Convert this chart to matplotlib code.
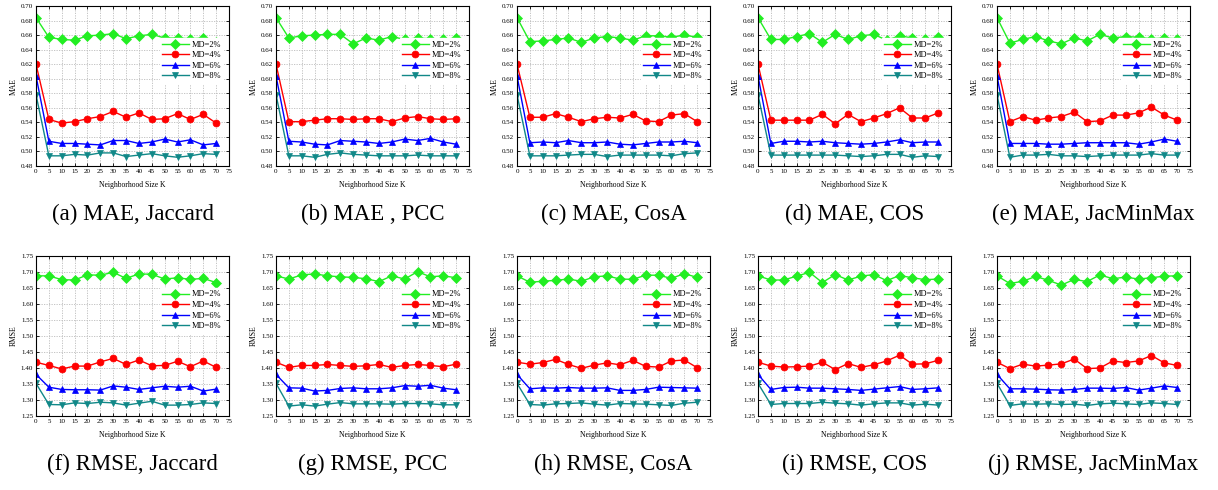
import matplotlib
matplotlib.use("Agg")
import matplotlib.pyplot as plt
from matplotlib.ticker import MultipleLocator

plt.rcParams['font.family'] = ['Liberation Serif', 'DejaVu Serif']

K = [0, 5, 10, 15, 20, 25, 30, 35, 40, 45, 50, 55, 60, 65, 70]
series_labels = ["MD=2%", "MD=4%", "MD=6%", "MD=8%"]
captions = ["(a) MAE, Jaccard", "(b) MAE , PCC", "(c) MAE, CosA", "(d) MAE, COS", "(e) MAE, JacMinMax",
            "(f) RMSE, Jaccard", "(g) RMSE, PCC", "(h) RMSE, CosA", "(i) RMSE, COS", "(j) RMSE, JacMinMax"]

# MAE panels
mae_jaccard = [
    [0.684, 0.657, 0.654, 0.653, 0.659, 0.660, 0.662, 0.655, 0.659, 0.661, 0.656, 0.656, 0.655, 0.656, 0.651],
    [0.620, 0.544, 0.539, 0.541, 0.545, 0.548, 0.555, 0.547, 0.553, 0.544, 0.545, 0.552, 0.544, 0.551, 0.539],
    [0.604, 0.514, 0.511, 0.511, 0.510, 0.509, 0.515, 0.515, 0.511, 0.513, 0.517, 0.513, 0.516, 0.509, 0.511],
    [0.578, 0.494, 0.494, 0.496, 0.495, 0.498, 0.498, 0.493, 0.495, 0.497, 0.494, 0.492, 0.494, 0.497, 0.496],
]
mae_pcc = [
    [0.684, 0.656, 0.659, 0.660, 0.661, 0.661, 0.648, 0.656, 0.653, 0.658, 0.654, 0.656, 0.655, 0.654, 0.656],
    [0.620, 0.541, 0.541, 0.543, 0.545, 0.545, 0.544, 0.545, 0.545, 0.541, 0.546, 0.548, 0.545, 0.544, 0.545],
    [0.604, 0.514, 0.513, 0.510, 0.509, 0.515, 0.514, 0.513, 0.511, 0.513, 0.517, 0.515, 0.518, 0.513, 0.510],
    [0.578, 0.494, 0.494, 0.492, 0.496, 0.498, 0.496, 0.495, 0.494, 0.494, 0.494, 0.495, 0.494, 0.494, 0.494],
]
mae_cosa = [
    [0.684, 0.651, 0.652, 0.654, 0.656, 0.650, 0.656, 0.658, 0.656, 0.653, 0.659, 0.659, 0.657, 0.660, 0.657],
    [0.620, 0.547, 0.547, 0.552, 0.547, 0.541, 0.545, 0.547, 0.546, 0.551, 0.542, 0.541, 0.550, 0.552, 0.541],
    [0.604, 0.512, 0.513, 0.512, 0.515, 0.512, 0.512, 0.513, 0.510, 0.509, 0.511, 0.513, 0.513, 0.514, 0.512],
    [0.578, 0.494, 0.494, 0.494, 0.495, 0.496, 0.496, 0.493, 0.495, 0.495, 0.495, 0.495, 0.494, 0.497, 0.498],
]
mae_cos = [
    [0.684, 0.654, 0.654, 0.658, 0.662, 0.650, 0.661, 0.654, 0.659, 0.661, 0.653, 0.659, 0.656, 0.654, 0.657],
    [0.620, 0.543, 0.543, 0.543, 0.543, 0.551, 0.538, 0.551, 0.541, 0.546, 0.552, 0.560, 0.546, 0.546, 0.553],
    [0.604, 0.511, 0.514, 0.514, 0.513, 0.514, 0.512, 0.511, 0.510, 0.511, 0.513, 0.516, 0.512, 0.513, 0.513],
    [0.578, 0.495, 0.495, 0.495, 0.495, 0.495, 0.495, 0.494, 0.493, 0.494, 0.496, 0.496, 0.492, 0.494, 0.493],
]
mae_jacminmax = [
    [0.684, 0.649, 0.654, 0.658, 0.652, 0.648, 0.656, 0.652, 0.661, 0.656, 0.658, 0.657, 0.655, 0.656, 0.655],
    [0.620, 0.541, 0.548, 0.543, 0.546, 0.548, 0.554, 0.541, 0.542, 0.550, 0.550, 0.553, 0.561, 0.550, 0.543],
    [0.604, 0.511, 0.511, 0.511, 0.510, 0.510, 0.511, 0.512, 0.512, 0.512, 0.512, 0.510, 0.513, 0.517, 0.514],
    [0.578, 0.492, 0.495, 0.495, 0.496, 0.494, 0.494, 0.493, 0.494, 0.495, 0.495, 0.495, 0.497, 0.495, 0.495],
]

# RMSE panels
rmse_jaccard = [
    [1.688, 1.688, 1.676, 1.675, 1.691, 1.690, 1.699, 1.680, 1.694, 1.693, 1.678, 1.682, 1.677, 1.680, 1.667],
    [1.418, 1.408, 1.397, 1.406, 1.406, 1.419, 1.430, 1.411, 1.425, 1.407, 1.408, 1.421, 1.404, 1.422, 1.402],
    [1.380, 1.340, 1.333, 1.332, 1.332, 1.331, 1.344, 1.340, 1.333, 1.338, 1.343, 1.340, 1.343, 1.328, 1.334],
    [1.352, 1.286, 1.285, 1.291, 1.289, 1.293, 1.291, 1.284, 1.290, 1.296, 1.284, 1.284, 1.286, 1.291, 1.289],
]
rmse_pcc = [
    [1.688, 1.678, 1.691, 1.694, 1.688, 1.685, 1.683, 1.679, 1.670, 1.688, 1.678, 1.701, 1.685, 1.688, 1.682],
    [1.418, 1.402, 1.408, 1.408, 1.411, 1.408, 1.405, 1.407, 1.411, 1.402, 1.408, 1.411, 1.408, 1.404, 1.412],
    [1.380, 1.338, 1.337, 1.328, 1.330, 1.336, 1.338, 1.335, 1.335, 1.338, 1.345, 1.343, 1.346, 1.337, 1.332],
    [1.352, 1.281, 1.285, 1.281, 1.287, 1.292, 1.288, 1.288, 1.288, 1.287, 1.289, 1.289, 1.288, 1.285, 1.285],
]
rmse_cosa = [
    [1.688, 1.668, 1.671, 1.674, 1.678, 1.671, 1.685, 1.688, 1.678, 1.677, 1.690, 1.690, 1.680, 1.695, 1.683],
    [1.418, 1.412, 1.417, 1.427, 1.411, 1.399, 1.409, 1.416, 1.410, 1.424, 1.405, 1.403, 1.422, 1.425, 1.401],
    [1.380, 1.335, 1.338, 1.337, 1.339, 1.337, 1.337, 1.338, 1.330, 1.330, 1.333, 1.340, 1.339, 1.338, 1.337],
    [1.352, 1.286, 1.284, 1.288, 1.289, 1.291, 1.287, 1.284, 1.289, 1.288, 1.287, 1.285, 1.283, 1.290, 1.293],
]
rmse_cos = [
    [1.688, 1.675, 1.675, 1.687, 1.699, 1.667, 1.692, 1.675, 1.687, 1.692, 1.673, 1.689, 1.682, 1.676, 1.678],
    [1.418, 1.406, 1.403, 1.404, 1.406, 1.418, 1.395, 1.414, 1.402, 1.410, 1.422, 1.440, 1.412, 1.413, 1.424],
    [1.380, 1.333, 1.339, 1.340, 1.337, 1.337, 1.335, 1.333, 1.330, 1.334, 1.338, 1.342, 1.333, 1.335, 1.338],
    [1.352, 1.286, 1.289, 1.289, 1.289, 1.293, 1.290, 1.288, 1.284, 1.288, 1.291, 1.291, 1.284, 1.287, 1.284],
]
rmse_jacminmax = [
    [1.688, 1.664, 1.671, 1.686, 1.674, 1.659, 1.677, 1.670, 1.691, 1.679, 1.684, 1.678, 1.682, 1.687, 1.688],
    [1.418, 1.398, 1.412, 1.406, 1.409, 1.413, 1.428, 1.398, 1.400, 1.422, 1.417, 1.422, 1.439, 1.416, 1.408],
    [1.380, 1.335, 1.335, 1.334, 1.332, 1.331, 1.333, 1.337, 1.337, 1.336, 1.339, 1.331, 1.337, 1.344, 1.339],
    [1.352, 1.283, 1.288, 1.287, 1.288, 1.286, 1.287, 1.283, 1.288, 1.290, 1.288, 1.286, 1.291, 1.289, 1.286],
]

panels = [mae_jaccard, mae_pcc, mae_cosa, mae_cos, mae_jacminmax,
          rmse_jaccard, rmse_pcc, rmse_cosa, rmse_cos, rmse_jacminmax]

colors = ["#22ee22", "#ff0000", "#0000ff", "#118888"]
markers = ["D", "o", "^", "v"]

W, H = 1218, 490
fig = plt.figure(figsize=(W / 100, H / 100), dpi=100)

lefts = [36, 276, 517, 758, 997]
ax_w = 193
rows = [(6, 166), (256, 416)]

for i, data in enumerate(panels):
    r, c = divmod(i, 5)
    top, bot = rows[r]
    ax = fig.add_axes([lefts[c] / W, 1 - bot / H, ax_w / W, (bot - top) / H])
    for s in range(4):
        ax.plot(K, data[s], color=colors[s], marker=markers[s], markersize=5,
                linewidth=1.0, label=series_labels[s], markeredgewidth=0.5,
                markeredgecolor=colors[s])
    ax.set_xlim(0, 75)
    ax.xaxis.set_major_locator(MultipleLocator(5))
    if r == 0:
        ax.set_ylim(0.48, 0.70)
        ax.yaxis.set_major_locator(MultipleLocator(0.02))
        ax.yaxis.set_major_formatter(plt.FormatStrFormatter('%.2f'))
        ax.set_ylabel("MAE", fontsize=5.5, labelpad=2)
    else:
        ax.set_ylim(1.25, 1.75)
        ax.yaxis.set_major_locator(MultipleLocator(0.05))
        ax.yaxis.set_major_formatter(plt.FormatStrFormatter('%.2f'))
        ax.set_ylabel("RMSE", fontsize=5.5, labelpad=2)
    ax.set_xlabel("Neighborhood Size K", fontsize=5.5, labelpad=5)
    ax.grid(True, color="#bbbbbb", linestyle=(0, (1.5, 1.5)), linewidth=0.6)
    ax.tick_params(direction="in", labelsize=5, length=2.5, width=0.6, pad=2,
                   top=True, right=True)
    for sp in ax.spines.values():
        sp.set_linewidth(0.8)
    ax.legend(loc="upper right", bbox_to_anchor=(0.97, 0.80), fontsize=6,
              frameon=True, edgecolor="white", facecolor="white", framealpha=1.0,
              handlelength=3.2, borderpad=0.3, labelspacing=0.3, handletextpad=0.3,
              borderaxespad=0.0, fancybox=False)
    cx = (lefts[c] + ax_w / 2) / W
    cy = 1 - (bot + 48) / H
    fig.text(cx, cy, captions[i], ha="center", va="center", fontsize=16.5)

fig.savefig("out.png", dpi=100)
